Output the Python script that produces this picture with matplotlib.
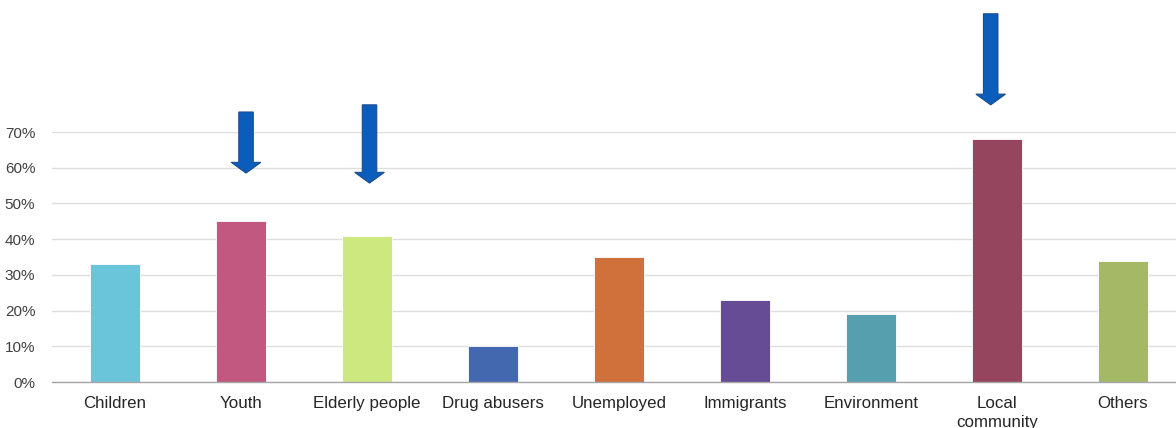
import matplotlib
matplotlib.use("Agg")
import matplotlib.pyplot as plt
from matplotlib.ticker import PercentFormatter

categories = ["Children", "Youth", "Elderly people", "Drug abusers", "Unemployed",
              "Immigrants", "Environment", "Local\ncommunity", "Others"]
shares = [0.33, 0.45, 0.41, 0.10, 0.35, 0.23, 0.19, 0.68, 0.34]
colors = ["#6BC5DA", "#C0587F", "#CDE87F", "#4468B0", "#D0703A",
          "#654C95", "#569FAE", "#96455F", "#A4B865"]
y_ticks = [0, 0.1, 0.2, 0.3, 0.4, 0.5, 0.6, 0.7]

# highlighted categories: (index, x nudge, tail height, tip height)
arrows = [(1, 0.04, 0.756, 0.585),
          (2, 0.02, 0.776, 0.557),
          (7, -0.05, 1.031, 0.776)]

plt.rcParams['font.family'] = ['Liberation Sans', 'DejaVu Sans']

fig = plt.figure(figsize=(11.76, 4.28), dpi=100)
ax = fig.add_axes([52 / 1176, 46 / 428, 1134 / 1176, 250 / 428])

x = range(len(categories))
ax.bar(x, shares, width=0.4, color=colors, edgecolor="white", linewidth=0.6, zorder=3)

ax.set_xlim(-0.5, len(categories) - 0.5)
ax.set_ylim(0, 0.70)
ax.set_yticks(y_ticks)
ax.yaxis.set_major_formatter(PercentFormatter(1.0, decimals=0))
ax.set_xticks(list(x))
ax.set_xticklabels(categories, fontsize=12.2, color="#262626", linespacing=1.35)
ax.tick_params(axis="y", length=0, pad=12, labelsize=11, labelcolor="#404040")
ax.tick_params(axis="x", length=0, pad=10)

ax.grid(axis="y", color="#DEDEDE", linewidth=1.0, zorder=0)
for side in ["top", "right", "left"]:
    ax.spines[side].set_visible(False)
ax.spines["bottom"].set_color("#A6A6A6")
ax.spines["bottom"].set_linewidth(1.0)
ax.spines["bottom"].set_zorder(4)

for idx, dx, top, tip in arrows:
    ax.arrow(idx + dx, top, 0, tip - top, width=0.115, head_width=0.235,
             head_length=0.03, length_includes_head=True,
             facecolor="#0B5DBB", edgecolor="#1B4C8F", linewidth=0.8,
             clip_on=False, zorder=5)

fig.savefig("out.png", dpi=100, facecolor="white")
